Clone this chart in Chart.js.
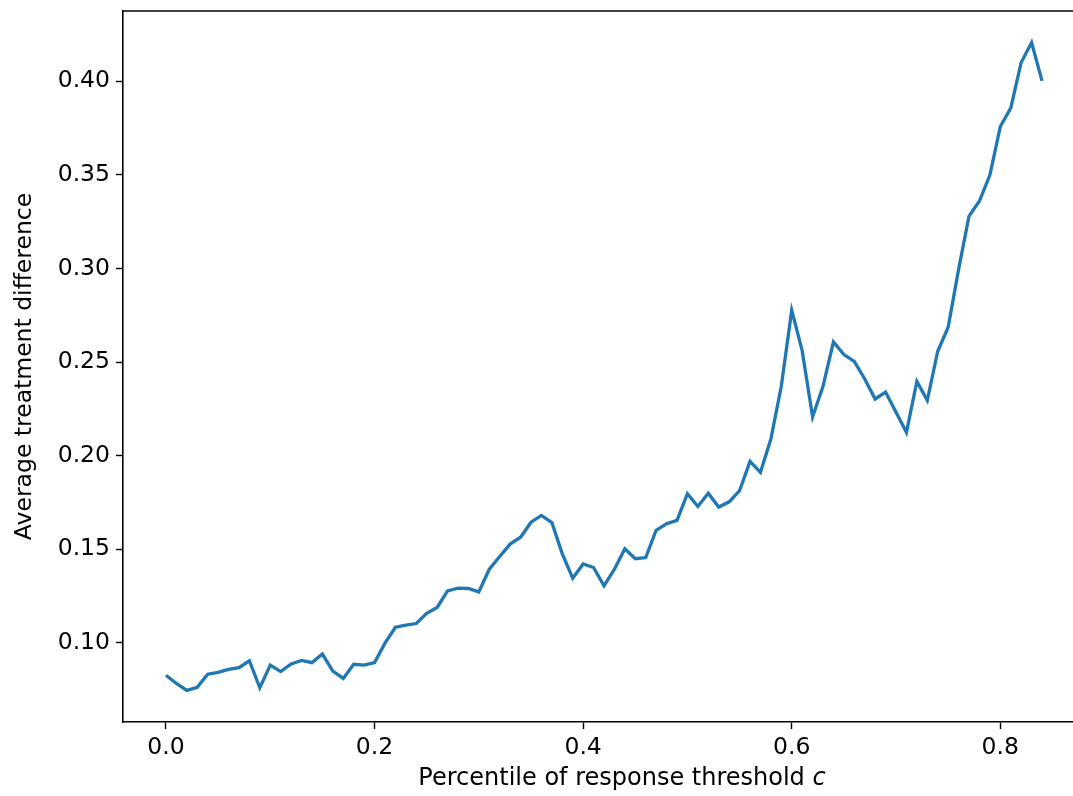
<!DOCTYPE html>
<html>
<head>
<meta charset="utf-8">
<script src="https://cdn.jsdelivr.net/npm/chart.js@4/dist/chart.umd.min.js"></script>
<style>
html,body{margin:0;padding:0;background:#fff;}
#wrap{width:1073px;height:796px;position:relative;}
</style>
</head>
<body>
<div id="wrap"><canvas id="c" width="1073" height="796"></canvas></div>
<script>
const percentiles = [0.00,0.01,0.02,0.03,0.04,0.05,0.06,0.07,0.08,0.09,
  0.10,0.11,0.12,0.13,0.14,0.15,0.16,0.17,0.18,0.19,
  0.20,0.21,0.22,0.23,0.24,0.25,0.26,0.27,0.28,0.29,
  0.30,0.31,0.32,0.33,0.34,0.35,0.36,0.37,0.38,0.39,
  0.40,0.41,0.42,0.43,0.44,0.45,0.46,0.47,0.48,0.49,
  0.50,0.51,0.52,0.53,0.54,0.55,0.56,0.57,0.58,0.59,
  0.60,0.61,0.62,0.63,0.64,0.65,0.66,0.67,0.68,0.69,
  0.70,0.71,0.72,0.73,0.74,0.75,0.76,0.77,0.78,0.79,
  0.80,0.81,0.82,0.83,0.84];
const avgDiff = [0.0828,0.0784,0.0747,0.0763,0.0833,0.0843,0.0859,0.0868,0.0905,0.0761,
  0.0882,0.0847,0.0888,0.0907,0.0895,0.0941,0.0850,0.0811,0.0886,0.0882,
  0.0895,0.0999,0.1084,0.1095,0.1104,0.1158,0.1190,0.1278,0.1293,0.1291,
  0.1273,0.1394,0.1462,0.1528,0.1565,0.1645,0.1681,0.1643,0.1476,0.1346,
  0.1422,0.1403,0.1305,0.1394,0.1503,0.1450,0.1456,0.1602,0.1637,0.1655,
  0.1797,0.1729,0.1800,0.1726,0.1754,0.1813,0.1970,0.1911,0.2089,0.2371,
  0.2777,0.2561,0.2207,0.2371,0.2608,0.2540,0.2504,0.2410,0.2303,0.2340,
  0.2232,0.2125,0.2397,0.2296,0.2558,0.2686,0.2995,0.3280,0.3360,0.3499,
  0.3758,0.3856,0.4100,0.4207,0.4002];
const xTicks = [0.0,0.2,0.4,0.6,0.8];
const yTicks = [0.10,0.15,0.20,0.25,0.30,0.35,0.40];
const xTitle = 'Percentile of response threshold ';
const xTitleVar = 'c';
const yTitle = 'Average treatment difference';

const FONT = "'DejaVu Sans', sans-serif";
const FS = 23.5;
const TFS = 24;
const decor = {
  id:'decor',
  afterDraw(chart){
    const a = chart.chartArea, ctx = chart.ctx;
    ctx.save();
    ctx.strokeStyle = '#000';
    ctx.lineWidth = 1.6;
    ctx.beginPath();
    ctx.moveTo(a.left, a.top);
    ctx.lineTo(a.right, a.top);
    ctx.stroke();
    ctx.fillStyle = '#000';
    ctx.textBaseline = 'middle';
    ctx.font = TFS + "px 'DejaVu Sans'";
    const w1 = ctx.measureText(xTitle).width;
    ctx.font = "oblique " + TFS + "px 'DejaVu Sans'";
    const w2 = ctx.measureText(xTitleVar).width;
    const cx = 622, cy = 779;
    let x0 = cx - (w1 + w2) / 2;
    ctx.textAlign = 'left';
    ctx.font = TFS + "px 'DejaVu Sans'";
    ctx.fillText(xTitle, x0, cy);
    ctx.font = "oblique " + TFS + "px 'DejaVu Sans'";
    ctx.fillText(xTitleVar, x0 + w1, cy);
    ctx.font = FS + "px 'DejaVu Sans'";
    ctx.translate(25, (a.top + a.bottom) / 2);
    ctx.rotate(-Math.PI / 2);
    ctx.textAlign = 'center';
    ctx.fillText(yTitle, 0, 0);
    ctx.restore();
  }
};

new Chart(document.getElementById('c'), {
  type:'line',
  data:{
    datasets:[{
      data: percentiles.map((p,i)=>({x:p, y:avgDiff[i]})),
      borderColor:'#1f77b4',
      borderWidth:3.3,
      pointRadius:0,
      fill:false,
      tension:0
    }]
  },
  options:{
    responsive:false,
    animation:false,
    layout:{padding:{left:0,right:0,top:11,bottom:0}},
    plugins:{legend:{display:false},tooltip:{enabled:false}},
    scales:{
      x:{
        type:'linear', min:-0.0412, max:0.8697,
        afterBuildTicks(s){ s.ticks = xTicks.map(v=>({value:v})); },
        afterFit(s){ s.height = 74; s.paddingLeft = 0; s.paddingRight = 0; },
        grid:{drawOnChartArea:false, drawTicks:true, tickLength:7, tickColor:'#000', tickWidth:1.4},
        border:{display:true, color:'#000', width:1.6},
        ticks:{color:'#000', font:{family:FONT, size:FS}, padding:5, maxRotation:0,
          callback:(v)=>Number(v).toFixed(1)},
        title:{display:false}
      },
      y:{
        type:'linear', min:0.0578, max:0.4375,
        afterBuildTicks(s){ s.ticks = yTicks.map(v=>({value:v})); },
        afterFit(s){ s.width = 123; s.paddingTop = 0; s.paddingBottom = 0; },
        grid:{drawOnChartArea:false, drawTicks:true, tickLength:7, tickColor:'#000', tickWidth:1.4},
        border:{display:true, color:'#000', width:1.6},
        ticks:{color:'#000', font:{family:FONT, size:FS}, padding:6,
          callback:(v)=>Number(v).toFixed(2)},
        title:{display:false}
      }
    }
  },
  plugins:[decor]
});
</script>
</body>
</html>
